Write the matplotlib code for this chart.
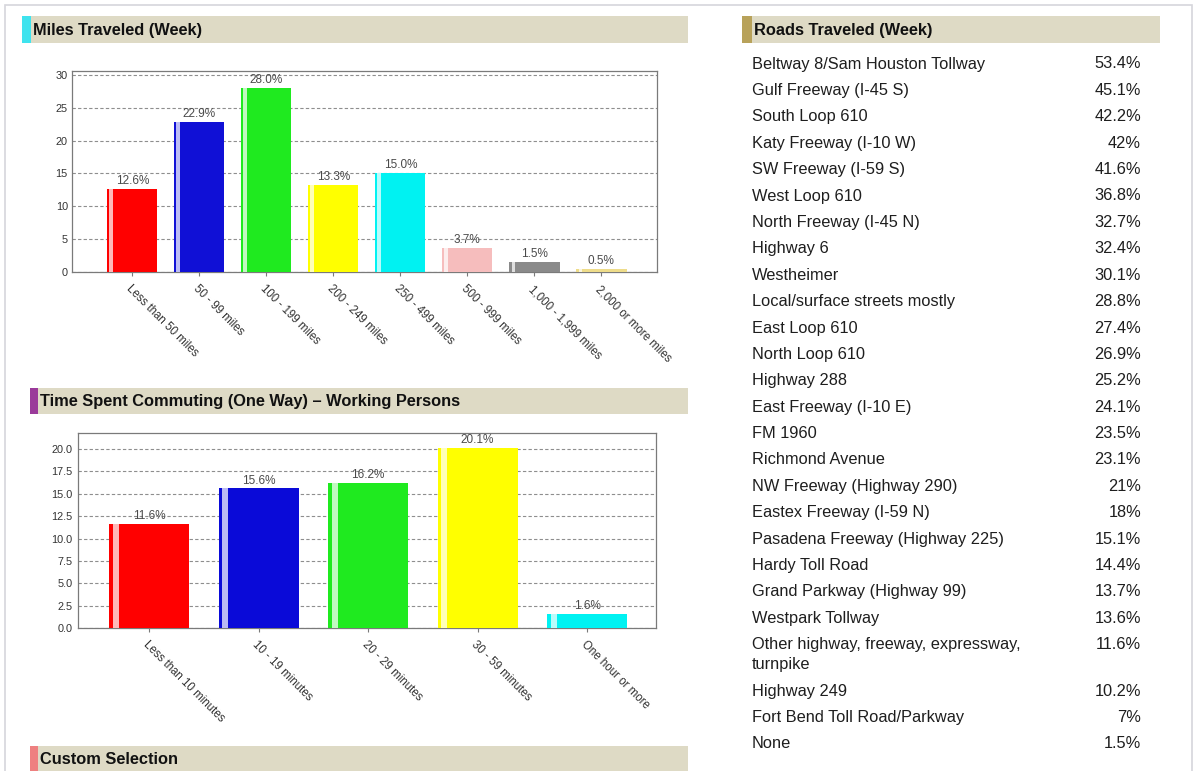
import matplotlib
matplotlib.use("Agg")
import matplotlib.pyplot as plt
from matplotlib.patches import Rectangle
from matplotlib.colors import to_rgb

plt.rcParams['font.family'] = ['Liberation Sans', 'DejaVu Sans']

# ---------------- data ----------------
miles_categories = ["Less than 50 miles", "50 - 99 miles", "100 - 199 miles", "200 - 249 miles",
                    "250 - 499 miles", "500 - 999 miles", "1,000 - 1,999 miles", "2,000 or more miles"]
miles_values = [12.6, 22.9, 28.0, 13.3, 15.0, 3.7, 1.5, 0.5]
miles_colors = ["#FF0000", "#1010D6", "#1FEA1F", "#FFFF00", "#00F2F2", "#F6BDBD", "#8A8A8A", "#EEDC8A"]
miles_yticks = [0, 5, 10, 15, 20, 25, 30]

commute_categories = ["Less than 10 minutes", "10 - 19 minutes", "20 - 29 minutes",
                      "30 - 59 minutes", "One hour or more"]
commute_values = [11.6, 15.6, 16.2, 20.1, 1.6]
commute_colors = ["#FF0000", "#0A0AD8", "#1FEA1F", "#FFFF00", "#00F2F2"]
commute_yticks = [0.0, 2.5, 5.0, 7.5, 10.0, 12.5, 15.0, 17.5, 20.0]

roads = ["Beltway 8/Sam Houston Tollway", "Gulf Freeway (I-45 S)", "South Loop 610",
         "Katy Freeway (I-10 W)", "SW Freeway (I-59 S)", "West Loop 610", "North Freeway (I-45 N)",
         "Highway 6", "Westheimer", "Local/surface streets mostly", "East Loop 610", "North Loop 610",
         "Highway 288", "East Freeway (I-10 E)", "FM 1960", "Richmond Avenue",
         "NW Freeway (Highway 290)", "Eastex Freeway (I-59 N)", "Pasadena Freeway (Highway 225)",
         "Hardy Toll Road", "Grand Parkway (Highway 99)", "Westpark Tollway",
         "Other highway, freeway, expressway,\nturnpike", "Highway 249",
         "Fort Bend Toll Road/Parkway", "None"]
road_values = [53.4, 45.1, 42.2, 42, 41.6, 36.8, 32.7, 32.4, 30.1, 28.8, 27.4, 26.9, 25.2, 24.1,
               23.5, 23.1, 21, 18, 15.1, 14.4, 13.7, 13.6, 11.6, 10.2, 7, 1.5]

section_titles = ["Miles Traveled (Week)", "Time Spent Commuting (One Way) \u2013 Working Persons",
                  "Custom Selection", "Roads Traveled (Week)"]

# ---------------- layout helpers ----------------
W, H = 1194, 771
fig = plt.figure(figsize=(W / 100, H / 100), dpi=100)
fig.patch.set_facecolor("white")


def fx(x):
    return x / W


def fy(y):
    return 1 - y / H


# faint page border
fig.patches.append(Rectangle((fx(5), fy(H + 10)), fx(1192 - 5), (H + 10 - 5) / H,
                             transform=fig.transFigure, facecolor="none",
                             edgecolor="#D6D6DC", linewidth=1.2, zorder=0))


def header(x0, x1, y0, y1, accent, accent_w, text):
    fig.patches.append(Rectangle((fx(x0), fy(y1)), fx(x1 - x0), (y1 - y0) / H,
                                 transform=fig.transFigure, facecolor="#DEDAC5",
                                 edgecolor="none", zorder=0))
    fig.patches.append(Rectangle((fx(x0), fy(y1)), fx(accent_w), (y1 - y0) / H,
                                 transform=fig.transFigure, facecolor=accent,
                                 edgecolor="none", zorder=1))
    fig.text(fx(x0 + accent_w + 2), fy((y0 + y1) / 2 + 0.5), text, fontsize=11.8,
             fontweight="bold", color="#111111", va="center", ha="left")


def lighten(c, amt):
    r, g, b = to_rgb(c)
    return (r + (1 - r) * amt, g + (1 - g) * amt, b + (1 - b) * amt)


def bar_chart(rect, cats, vals, colors, yticks, ylim, xlim, width, fmt_tick, ypad):
    ax = fig.add_axes(rect)
    x = list(range(len(cats)))
    ax.bar(x, vals, width=width, color=colors, edgecolor="none", zorder=3)
    # highlight stripe near the left edge of each bar
    stripe_left = [xi - width / 2 + width * 0.045 for xi in x]
    ax.bar(stripe_left, vals, width=width * 0.075, align="edge",
           color=[lighten(c, 0.72) for c in colors], edgecolor="none", zorder=4)
    for xi, v in zip(x, vals):
        ax.text(xi, v + (ylim[1] * 0.01), f"{v:.1f}%", ha="center", va="bottom",
                fontsize=8.5, color="#4A4A4A", zorder=5)
    ax.set_xlim(*xlim)
    ax.set_ylim(*ylim)
    ax.set_yticks(yticks)
    ax.set_yticklabels([fmt_tick(t) for t in yticks], fontsize=7.8, color="#333333")
    ax.set_xticks(x)
    ax.set_xticklabels(cats, rotation=-45, ha="left", va="top", rotation_mode="anchor",
                       fontsize=8.3, color="#333333")
    ax.yaxis.grid(True, linestyle=(0, (3, 2)), color="#8E8E8E", linewidth=0.8, zorder=1)
    ax.set_axisbelow(True)
    for s in ax.spines.values():
        s.set_color("#7A7A7A")
        s.set_linewidth(0.9)
    ax.tick_params(axis="x", length=3, color="#7A7A7A", pad=5)
    ax.tick_params(axis="y", length=0, pad=ypad)
    return ax


# ---------------- headers ----------------
header(22, 688, 16, 43, "#3FE3EE", 9, section_titles[0])
header(30, 688, 388, 414, "#9A3A9A", 8, section_titles[1])
header(30, 688, 746, 773, "#EE8080", 8, section_titles[2])
header(742, 1160, 16, 43, "#B8A25A", 10, section_titles[3])

# ---------------- chart 1 ----------------
bar_chart([fx(72), fy(272), fx(657 - 72), (272 - 71) / H],
          miles_categories, miles_values, miles_colors, miles_yticks,
          (0, 30.6), (-0.9, 7.83), 0.75, lambda t: f"{t:g}", 3)

# ---------------- chart 2 ----------------
bar_chart([fx(78), fy(628), fx(656 - 78), (628 - 433) / H],
          commute_categories, commute_values, commute_colors, commute_yticks,
          (0, 21.8), (-0.65, 4.63), 0.73, lambda t: f"{t:.1f}", 4)

# ---------------- roads table ----------------
y = 64.0
for name, val in zip(roads, road_values):
    lines = name.split("\n")
    for j, line in enumerate(lines):
        fig.text(fx(752), fy(y + j * 20), line, fontsize=11.8, color="#1E1E1E",
                 ha="left", va="center")
    fig.text(fx(1141), fy(y), f"{val:g}%", fontsize=11.8, color="#1E1E1E",
             ha="right", va="center")
    y += 26.4 + 20 * (len(lines) - 1)

fig.savefig("out.png", dpi=100, facecolor="white")
